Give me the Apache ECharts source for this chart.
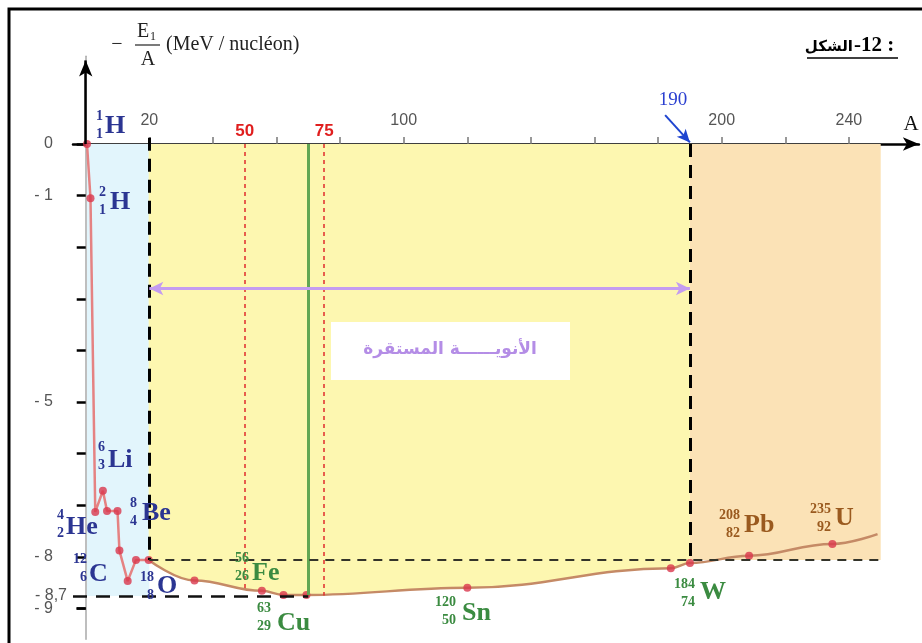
<!DOCTYPE html>
<html>
<head>
<meta charset="utf-8">
<script src="https://cdn.jsdelivr.net/npm/echarts@6/dist/echarts.min.js"></script>
<style>
  html, body { margin: 0; padding: 0; background: #fff; }
  #main { width: 922px; height: 643px; }
</style>
</head>
<body>
<div id="main"></div>
<script>
const lightA = [0.4, 1.5, 3, 5.4, 6.7, 10, 10.6, 13.2, 15.8, 19.8];
const lightE = [0, -1.05, -7.13, -6.72, -7.11, -7.11, -7.88, -8.47, -8.06, -8.06];
const curveA = [19.8, 34.2, 55.4, 62.2, 69.4, 120, 184, 190, 208.6, 234.8, 249];
const curveE = [-8.06, -8.46, -8.66, -8.74, -8.74, -8.6, -8.22, -8.12, -7.98, -7.75, -7.56];

const xTicks = [20, 40, 60, 80, 100, 120, 140, 160, 180, 200, 220, 240];
const xTickLabels = [20, 100, 200, 240];
const yTicks = [0, -1, -2, -3, -4, -5, -6, -7, -8, -9];
const yTickLabels = [0, -1, -5, -8, -8.7, -9];

const nuclideSymbols = ["H", "H", "Li", "He", "Be", "C", "O", "Fe", "Cu", "Sn", "W", "Pb", "U"];
const nuclideMass = [1, 2, 6, 4, 8, 12, 18, 56, 63, 120, 184, 208, 235];
const nuclideZ = [1, 1, 3, 2, 4, 6, 8, 26, 29, 50, 74, 82, 92];

const stableFrom = 20;
const stableTo = 190;
const ironBand = [50, 75];
const copperA = 69.9;
const level8 = -8.06;
const level87 = -8.76;
const endA = 250;

const chart = echarts.init(document.getElementById("main"));

const yFmt = (v) => (v === 0 ? "0" : "- " + String(Math.abs(v)).replace(".", ","));
// -8,7 sits too close to -9 for the axis, it is written at the end of its dashed line
const yAxisLabels = yTickLabels.filter((v) => Number.isInteger(v));
const yLineLabel = yTickLabels.find((v) => !Number.isInteger(v));

// label placement (px): symbol left, symbol centre y, numbers right edge, numbers centre y, colour
const labelLayout = [
  [105, 126, 103, 125, "b"],
  [110, 202, 106, 201, "b"],
  [108, 460, 105, 456, "b"],
  [66, 527, 64, 524, "b"],
  [142, 513, 137, 512, "b"],
  [89, 574, 87, 568, "b"],
  [157, 586, 154, 586, "b"],
  [252, 573, 249, 567, "g"],
  [277, 623, 271, 617, "g"],
  [462, 613, 456, 611, "g"],
  [700, 592, 695, 593, "g"],
  [744, 525, 740, 524, "r"],
  [835, 518, 831, 518, "r"],
];
const labelColors = { b: "#2b3592", g: "#3b8b41", r: "#9a5a1f" };

const nuclideGraphics = [];
nuclideSymbols.forEach((sym, i) => {
  const [sx, sy, nx, ny, c] = labelLayout[i];
  nuclideGraphics.push({
    type: "text", x: sx, y: sy, z: 20,
    style: { text: sym, fill: labelColors[c], font: 'bold 26px "Liberation Serif"', verticalAlign: "middle" },
  });
  nuclideGraphics.push({
    type: "text", x: nx, y: ny, z: 20,
    style: {
      text: nuclideMass[i] + "\n" + nuclideZ[i], fill: labelColors[c],
      font: 'bold 14px "Liberation Serif"', align: "right", verticalAlign: "middle", lineHeight: 18,
    },
  });
});

const dots = lightA.map((a, i) => [a, lightE[i]])
  .concat(curveA.slice(1, -1).map((a, i) => [a, curveE[i + 1]]));
const curveData = curveA.map((a, i) => [a, curveE[i]]);
const stableData = curveData.filter((p) => p[0] <= stableTo);

function vline(x, y1, y2, style, label) {
  return [
    { coord: [x, y1], lineStyle: style, label: label || { show: false } },
    { coord: [x, y2] },
  ];
}
function hline(y, x1, x2, style, label) {
  return [{ coord: [x1, y], lineStyle: style, label: label || { show: false } }, { coord: [x2, y] }];
}

const redDash = { color: "#e02c2c", width: 1.5, type: [4, 4] };
const redLabel = (t) => ({ show: true, position: "start", formatter: t, color: "#e01e1e", fontWeight: "bold", fontSize: 17, fontFamily: "Liberation Sans", distance: 4 });

const option = {
  animation: false,
  grid: { left: 73, right: 3.12, top: 56.28, bottom: 3.64 },
  xAxis: {
    type: "value", min: -4, max: 262, position: "top",
    axisLine: { onZero: true, symbol: ["none", "arrow"], symbolSize: [10, 16], lineStyle: { color: "#000", width: 2.5 } },
    axisTick: { customValues: xTicks, length: 7, lineStyle: { color: "#777", width: 1.5 } },
    axisLabel: { customValues: xTickLabels, margin: -72, color: "#555", fontSize: 16, fontFamily: "Liberation Sans" },
    splitLine: { show: false },
  },
  yAxis: {
    type: "value", min: -9.6, max: 1.7,
    axisLine: { show: true, onZero: true, lineStyle: { color: "#a8a8a8", width: 1.5 } },
    axisTick: { show: true, customValues: yTicks, length: 9, lineStyle: { color: "#000", width: 2.5 } },
    axisLabel: {
      customValues: yAxisLabels, margin: 20, color: "#555", fontSize: 16,
      fontFamily: "Liberation Sans", showMinLabel: true, showMaxLabel: true, formatter: yFmt,
    },
    splitLine: { show: false },
  },
  graphic: [
    { type: "rect", shape: { x: 9, y: 9, width: 930, height: 660 }, style: { fill: "none", stroke: "#000", lineWidth: 3 }, z: 30 },
    { type: "text", x: 853, y: 47, style: { text: "الشكل", font: 'bold 15px "DejaVu Sans"', fill: "#000", align: "right", verticalAlign: "middle" } },
    { type: "text", x: 854, y: 46, style: { text: "-12 :", font: 'bold 21px "Liberation Serif"', fill: "#000", align: "left", verticalAlign: "middle" } },
    { type: "line", shape: { x1: 807, y1: 58, x2: 898, y2: 58 }, style: { stroke: "#000", lineWidth: 1.5 } },
    { type: "text", x: 117, y: 45, style: { text: "−", font: '20px "Liberation Serif"', fill: "#222", align: "center", verticalAlign: "middle" } },
    { type: "text", x: 143, y: 32, style: { text: "E", font: '20px "Liberation Serif"', fill: "#222", align: "center", verticalAlign: "middle" } },
    { type: "text", x: 153, y: 37, style: { text: "1", font: '12px "Liberation Serif"', fill: "#222", align: "center", verticalAlign: "middle" } },
    { type: "line", shape: { x1: 135, y1: 45, x2: 160, y2: 45 }, style: { stroke: "#222", lineWidth: 1.2 } },
    { type: "text", x: 148, y: 60, style: { text: "A", font: '20px "Liberation Serif"', fill: "#222", align: "center", verticalAlign: "middle" } },
    { type: "text", x: 166, y: 45, style: { text: "(MeV / nucléon)", font: '20px "Liberation Serif"', fill: "#222", verticalAlign: "middle" } },
    { type: "text", x: 911, y: 124, style: { text: "A", font: '21px "Liberation Serif"', fill: "#111", align: "center", verticalAlign: "middle" } },
    { type: "text", x: 673, y: 100, style: { text: "190", font: '19px "Liberation Serif"', fill: "#2a3fd0", align: "center", verticalAlign: "middle" } },
    // stable-nuclei caption box
    { type: "rect", z: 10, shape: { x: 331, y: 322, width: 239, height: 58 }, style: { fill: "#ffffff" } },
    { type: "text", z: 11, x: 450, y: 350, style: { text: "الأنويــــــة المستقرة", font: 'bold 17px "DejaVu Sans"', fill: "#b48de6", align: "center", verticalAlign: "middle" } },
  ].concat(nuclideGraphics),
  series: [
    {
      // background regions
      type: "line", z: 0, data: [], silent: true,
      markArea: {
        silent: true,
        data: [
          [{ coord: [0.4, 0], itemStyle: { color: "#e2f5fc" } }, { coord: [stableFrom, level87] }],
          [{ coord: [stableTo, 0], itemStyle: { color: "#fbe2b6" } }, { coord: [endA, level8] }],
        ],
      },
    },
    {
      // stable nuclei region filled down to the curve
      type: "line", z: 1, silent: true, data: stableData, smooth: 0.4, smoothMonotone: "x",
      symbol: "none", lineStyle: { width: 0 },
      areaStyle: { color: "#fdf7b0", opacity: 1, origin: 0 },
    },
    {
      // reference lines
      type: "line", z: 2, data: [], silent: true,
      markLine: {
        silent: true, symbol: "none", animation: false,
        data: [
          vline(ironBand[0], 0, -8.64, redDash, redLabel("50")),
          vline(ironBand[1], 0, -8.75, redDash, redLabel("75")),
          vline(copperA, 0, -8.74, { color: "#62a653", width: 3, type: "solid" }),
          vline(stableFrom, 0.12, level8, { color: "#000", width: 3, type: [13, 8] }),
          vline(stableTo, 0, -8.12, { color: "#000", width: 3, type: [13, 8] }),
          hline(level8, stableFrom, endA, { color: "#34342a", width: 2, type: [9, 7] }),
          hline(level87, -4, 70, { color: "#111", width: 2.5, type: [14, 9] }, {
            show: true, position: "start", distance: 6, formatter: yFmt(yLineLabel),
            color: "#555", fontSize: 16, fontFamily: "Liberation Sans",
          }),
          [
            { coord: [stableFrom, -2.8], symbol: "arrow", symbolSize: [10, 14], lineStyle: { color: "#c49cf0", width: 3, type: "solid" } },
            { coord: [stableTo, -2.8], symbol: "arrow", symbolSize: [10, 14] },
          ],
          [
            { coord: [182.2, 0.56], symbol: "none", lineStyle: { color: "#1f45d0", width: 2, type: "solid" } },
            { coord: [190, 0.03], symbol: "arrow", symbolSize: [9, 13] },
          ],
          [
            { coord: [0, 0], symbol: "none", lineStyle: { color: "#000", width: 2.5, type: "solid" } },
            { coord: [0, 1.62], symbol: "arrow", symbolSize: [10, 16] },
          ],
          // -9 graduation
          [
            { coord: [-2.9, -9], symbol: "none", lineStyle: { color: "#000", width: 2.5, type: "solid" } },
            { coord: [0, -9] },
          ],
        ],
      },
    },
    {
      type: "line", z: 3, silent: true, data: lightA.map((a, i) => [a, lightE[i]]),
      symbol: "none", lineStyle: { color: "#e58282", width: 2.5 },
    },
    {
      type: "line", z: 3, silent: true, data: curveData, smooth: 0.4, smoothMonotone: "x",
      symbol: "none", lineStyle: { color: "#c58a66", width: 2.5 },
    },
    {
      type: "scatter", z: 4, silent: true, data: dots, symbolSize: 8,
      itemStyle: { color: "#d9374c" },
    },
  ],
};

chart.setOption(option);
</script>
</body>
</html>
